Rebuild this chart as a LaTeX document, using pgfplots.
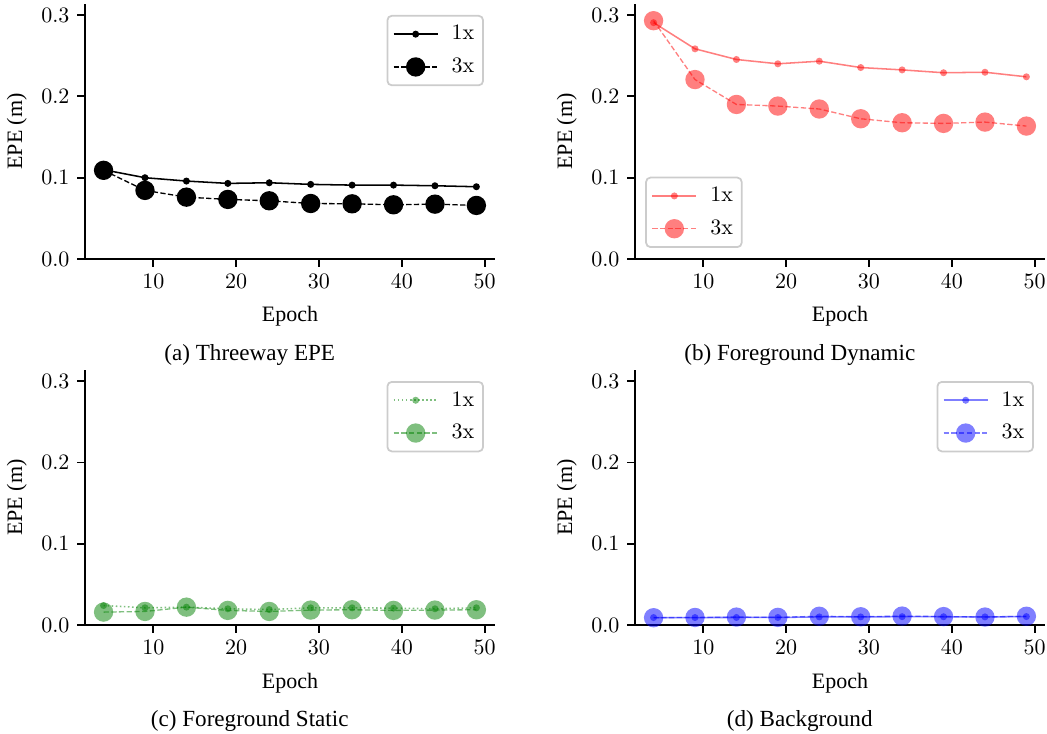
\documentclass[border=0pt]{standalone}
\usepackage[no-math]{fontspec}
\setmainfont{Liberation Serif}
\usepackage{pgfplots}
\pgfplotsset{compat=1.18}
\usepackage{pgfplotstable}

\pgfplotstableread{
epoch a1 a3 b1 b3 c1 c3 d1 d3
4  0.1097 0.1090 0.2906 0.2930 0.0240 0.0159 0.0092 0.0090
9  0.0999 0.0843 0.2584 0.2206 0.0212 0.0167 0.0092 0.0093
14 0.0958 0.0760 0.2453 0.1900 0.0220 0.0220 0.0093 0.0098
19 0.0929 0.0732 0.2400 0.1880 0.0200 0.0180 0.0093 0.0094
24 0.0937 0.0715 0.2432 0.1844 0.0190 0.0167 0.0100 0.0108
29 0.0917 0.0682 0.2354 0.1724 0.0212 0.0184 0.0100 0.0102
34 0.0908 0.0678 0.2325 0.1675 0.0212 0.0188 0.0103 0.0110
39 0.0908 0.0666 0.2290 0.1667 0.0208 0.0180 0.0102 0.0104
44 0.0900 0.0674 0.2296 0.1683 0.0200 0.0184 0.0100 0.0098
49 0.0888 0.0658 0.2240 0.1634 0.0212 0.0188 0.0104 0.0108
}\data

\definecolor{mred}{rgb}{1,0,0}
\definecolor{mgreen}{rgb}{0,0.5,0}
\definecolor{mblue}{rgb}{0,0,1}

\pgfplotsset{
  myaxis/.style={
    scale only axis, width=186.4pt, height=115.9pt,
    xmin=1.75, xmax=51.25, ymin=0, ymax=0.3136,
    axis lines=left, axis line style={-, line width=0.8pt},
    tick align=outside, major tick length=3.5pt,
    every tick/.style={line width=0.8pt, black},
    xtick={10,20,30,40,50}, ytick={0,0.1,0.2,0.3},
    yticklabel style={/pgf/number format/.cd, fixed, fixed zerofill, precision=1},
    ticklabel style={font=\fontsize{9.6}{11}\selectfont},
    xlabel={Epoch}, ylabel={EPE (m)},
    every axis x label/.style={at={(axis description cs:0.5,-0.247)}, anchor=base, font=\fontsize{10}{12}\selectfont},
    every axis y label/.style={at={(axis description cs:-0.166,0.5)}, rotate=90, anchor=center, font=\fontsize{10}{12}\selectfont},
    every axis title/.style={at={(axis description cs:0.402,-0.397)}, anchor=base, font=\fontsize{10.5}{12}\selectfont},
    legend cell align=left,
    legend image code/.code={\draw[mark repeat=2,mark phase=2,##1] plot coordinates {(0pt,0pt) (10pt,0pt) (20pt,0pt)};},
    legend style={draw=black!20, line width=0.8pt, rounded corners=2pt, fill=white,
      font=\fontsize{10.3}{12}\selectfont, inner xsep=2.5pt, inner ysep=2.2pt, row sep=2.6pt,
      nodes={inner sep=1.5pt, text height=7.3pt, text depth=2pt},
      /tikz/every odd column/.append style={column sep=4.5pt}},
    ne legend/.style={legend style={at={(axis description cs:0.973,0.957)}, anchor=north east}},
    sw legend/.style={legend style={at={(axis description cs:0.025,0.043)}, anchor=south west}},
    clip=false,
  },
  one/.style={line width=0.7pt, mark=*, mark size=1.6pt, mark options={solid, draw opacity=0}},
  three/.style={line width=0.6pt, dash pattern=on 2.4pt off 1.1pt, mark=*, mark size=4.4pt, mark options={solid, draw opacity=0}},
}

\begin{document}
\begin{tikzpicture}
\useasboundingbox (0,0) rectangle (475.9pt,-333.6pt);

\begin{axis}[myaxis, ne legend, at={(38.6pt,-117.7pt)}, anchor=south west, title={(a) Threeway EPE}]
\addplot[one, black] table[x=epoch, y=a1] {\data};
\addlegendentry{$1\mathrm{x}$}
\addplot[three, black] table[x=epoch, y=a3] {\data};
\addlegendentry{$3\mathrm{x}$}
\end{axis}

\begin{axis}[myaxis, sw legend, at={(288.6pt,-117.7pt)}, anchor=south west, title={(b) Foreground Dynamic}]
\addplot[one, mred, opacity=0.5] table[x=epoch, y=b1] {\data};
\addlegendentry{$1\mathrm{x}$}
\addplot[three, mred, opacity=0.5] table[x=epoch, y=b3] {\data};
\addlegendentry{$3\mathrm{x}$}
\end{axis}

\begin{axis}[myaxis, ne legend, at={(38.6pt,-284.1pt)}, anchor=south west, title={(c) Foreground Static}]
\addplot[one, mgreen, opacity=0.5, dash pattern=on 0.7pt off 1.15pt] table[x=epoch, y=c1] {\data};
\addlegendentry{$1\mathrm{x}$}
\addplot[three, mgreen, opacity=0.5] table[x=epoch, y=c3] {\data};
\addlegendentry{$3\mathrm{x}$}
\end{axis}

\begin{axis}[myaxis, ne legend, at={(288.6pt,-284.1pt)}, anchor=south west, title={(d) Background}]
\addplot[one, mblue, opacity=0.5] table[x=epoch, y=d1] {\data};
\addlegendentry{$1\mathrm{x}$}
\addplot[three, mblue, opacity=0.5] table[x=epoch, y=d3] {\data};
\addlegendentry{$3\mathrm{x}$}
\end{axis}
\end{tikzpicture}
\end{document}
